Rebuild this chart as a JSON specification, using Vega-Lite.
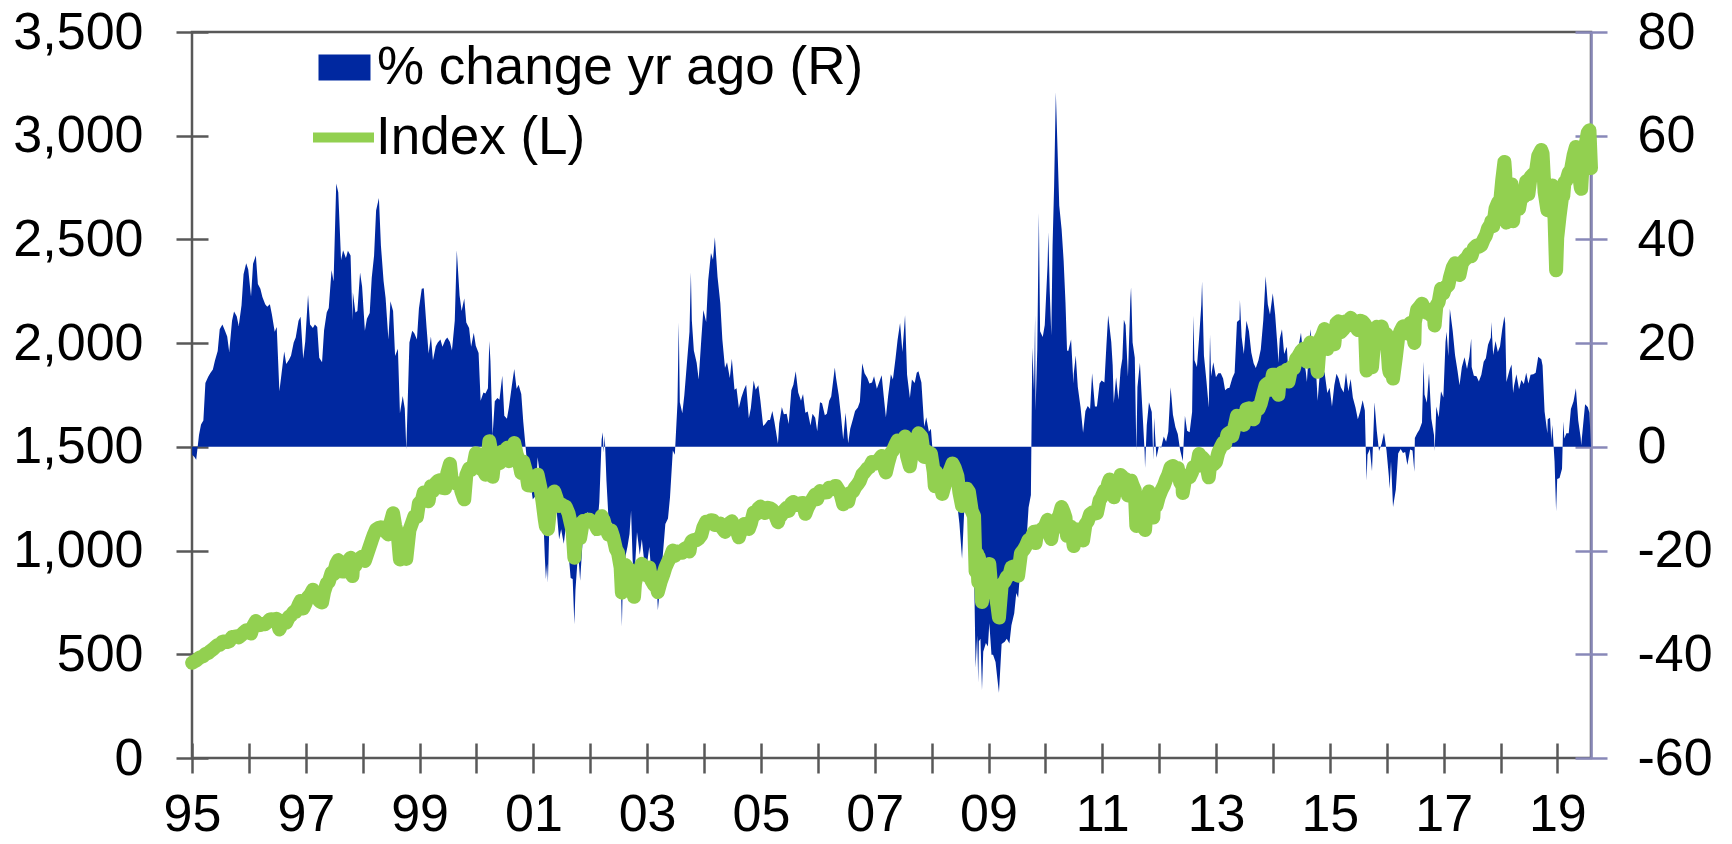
{
"$schema": "https://vega.github.io/schema/vega-lite/v6.json",
"width": 1399, "height": 726,
"autosize": {"type": "none"},
"padding": {"left": 192, "top": 32, "right": 141, "bottom": 86},
"background": "white",
"config": {"view": {"stroke": "#585858", "strokeWidth": 2.5}, "font": "Liberation Sans"},
"data": {"values": [
{"d":"1995-01-02","i":459,"p":-1.5},{"d":"1995-01-15","i":465,"p":-1.9},{"d":"1995-01-28","i":470,"p":-2.5},
{"d":"1995-02-15","i":482,"p":2.3},{"d":"1995-02-28","i":487,"p":4.3},
{"d":"1995-03-15","i":491,"p":5.1},{"d":"1995-03-28","i":501,"p":12.3},
{"d":"1995-04-15","i":506,"p":13.5},{"d":"1995-04-28","i":515,"p":14.2},
{"d":"1995-05-15","i":524,"p":14.9},{"d":"1995-05-28","i":533,"p":16.6},
{"d":"1995-06-15","i":545,"p":18.5},{"d":"1995-06-28","i":545,"p":22.7},
{"d":"1995-07-15","i":560,"p":23.6},{"d":"1995-07-28","i":562,"p":22.7},
{"d":"1995-08-15","i":559,"p":21.3},{"d":"1995-08-28","i":562,"p":18.3},
{"d":"1995-09-15","i":583,"p":24.3},{"d":"1995-09-28","i":584,"p":26.1},
{"d":"1995-10-15","i":587,"p":25.2},{"d":"1995-10-28","i":582,"p":23.3},
{"d":"1995-11-15","i":593,"p":27.3},{"d":"1995-11-28","i":605,"p":33.3},
{"d":"1995-12-15","i":616,"p":35.4},{"d":"1995-12-28","i":616,"p":34.2},
{"d":"1996-01-15","i":600,"p":29.0},{"d":"1996-01-28","i":636,"p":35.3},
{"d":"1996-02-15","i":660,"p":36.9},{"d":"1996-02-28","i":640,"p":31.4},
{"d":"1996-03-15","i":641,"p":30.5},{"d":"1996-03-28","i":646,"p":28.9},
{"d":"1996-04-15","i":645,"p":27.5},{"d":"1996-04-28","i":654,"p":27.0},
{"d":"1996-05-15","i":668,"p":27.5},{"d":"1996-05-28","i":669,"p":25.5},
{"d":"1996-06-15","i":666,"p":22.2},{"d":"1996-06-28","i":671,"p":23.1},
{"d":"1996-07-15","i":620,"p":10.7},{"d":"1996-07-28","i":640,"p":13.9},
{"d":"1996-08-15","i":662,"p":18.4},{"d":"1996-08-28","i":652,"p":16.0},
{"d":"1996-09-15","i":681,"p":16.8},{"d":"1996-09-28","i":687,"p":17.6},
{"d":"1996-10-15","i":705,"p":20.1},{"d":"1996-10-28","i":705,"p":21.1},
{"d":"1996-11-15","i":737,"p":24.3},{"d":"1996-11-28","i":757,"p":25.1},
{"d":"1996-12-15","i":721,"p":17.0},{"d":"1996-12-28","i":741,"p":20.3},
{"d":"1997-01-15","i":776,"p":29.3},{"d":"1997-01-28","i":786,"p":23.6},
{"d":"1997-02-15","i":811,"p":22.9},{"d":"1997-02-28","i":791,"p":23.6},
{"d":"1997-03-15","i":789,"p":23.1},{"d":"1997-03-28","i":757,"p":17.2},
{"d":"1997-04-15","i":750,"p":16.3},{"d":"1997-04-28","i":801,"p":22.5},
{"d":"1997-05-15","i":841,"p":25.9},{"d":"1997-05-28","i":848,"p":26.8},
{"d":"1997-06-15","i":893,"p":34.1},{"d":"1997-06-28","i":885,"p":31.9},
{"d":"1997-07-15","i":935,"p":50.8},{"d":"1997-07-28","i":954,"p":49.1},
{"d":"1997-08-15","i":900,"p":36.0},{"d":"1997-08-28","i":899,"p":37.9},
{"d":"1997-09-15","i":929,"p":36.4},{"d":"1997-09-28","i":947,"p":37.8},
{"d":"1997-10-15","i":965,"p":36.9},{"d":"1997-10-27","i":877,"p":24.4},{"d":"1997-10-30","i":915,"p":29.8},
{"d":"1997-11-15","i":928,"p":25.9},{"d":"1997-11-28","i":955,"p":26.2},
{"d":"1997-12-15","i":963,"p":33.6},{"d":"1997-12-28","i":970,"p":30.9},
{"d":"1998-01-15","i":950,"p":22.4},{"d":"1998-01-28","i":980,"p":24.7},
{"d":"1998-02-15","i":1020,"p":25.8},{"d":"1998-02-28","i":1049,"p":32.6},
{"d":"1998-03-15","i":1080,"p":36.9},{"d":"1998-03-28","i":1102,"p":45.6},
{"d":"1998-04-15","i":1110,"p":48.0},{"d":"1998-04-28","i":1112,"p":38.8},
{"d":"1998-05-15","i":1110,"p":32.0},{"d":"1998-05-28","i":1091,"p":28.7},
{"d":"1998-06-15","i":1078,"p":20.7},{"d":"1998-06-28","i":1134,"p":28.1},
{"d":"1998-07-15","i":1180,"p":26.2},{"d":"1998-07-28","i":1121,"p":17.5},
{"d":"1998-08-15","i":1070,"p":18.9},{"d":"1998-08-28","i":957,"p":6.5},
{"d":"1998-09-15","i":1020,"p":9.8},{"d":"1998-09-28","i":1017,"p":7.4},
{"d":"1998-10-08","i":960,"p":-0.5},{"d":"1998-10-28","i":1099,"p":20.1},
{"d":"1998-11-15","i":1136,"p":22.4},{"d":"1998-11-28","i":1164,"p":21.9},
{"d":"1998-12-15","i":1162,"p":20.7},{"d":"1998-12-28","i":1229,"p":26.7},
{"d":"1999-01-15","i":1240,"p":30.5},{"d":"1999-01-28","i":1280,"p":30.6},
{"d":"1999-02-15","i":1255,"p":23.0},{"d":"1999-02-28","i":1238,"p":18.0},
{"d":"1999-03-15","i":1310,"p":21.3},{"d":"1999-03-28","i":1286,"p":16.7},
{"d":"1999-04-15","i":1325,"p":19.4},{"d":"1999-04-28","i":1335,"p":20.1},
{"d":"1999-05-15","i":1340,"p":20.7},{"d":"1999-05-28","i":1302,"p":19.3},
{"d":"1999-06-15","i":1300,"p":20.6},{"d":"1999-06-28","i":1373,"p":21.1},
{"d":"1999-07-15","i":1418,"p":20.2},{"d":"1999-07-28","i":1329,"p":18.6},
{"d":"1999-08-15","i":1330,"p":24.3},{"d":"1999-08-28","i":1320,"p":37.9},
{"d":"1999-09-15","i":1318,"p":29.2},{"d":"1999-09-28","i":1283,"p":26.2},
{"d":"1999-10-15","i":1247,"p":28.6},{"d":"1999-10-28","i":1363,"p":24.0},
{"d":"1999-11-15","i":1396,"p":22.9},{"d":"1999-11-28","i":1389,"p":19.3},
{"d":"1999-12-15","i":1418,"p":22.0},{"d":"1999-12-28","i":1469,"p":19.5},
{"d":"2000-01-15","i":1465,"p":18.1},{"d":"2000-01-28","i":1394,"p":8.9},
{"d":"2000-02-15","i":1387,"p":10.5},{"d":"2000-02-28","i":1366,"p":10.3},
{"d":"2000-03-15","i":1458,"p":11.3},{"d":"2000-03-24","i":1527,"p":20.4},{"d":"2000-03-31","i":1499,"p":16.6},
{"d":"2000-04-14","i":1356,"p":2.3},{"d":"2000-04-28","i":1452,"p":8.8},
{"d":"2000-05-15","i":1466,"p":9.4},{"d":"2000-05-28","i":1421,"p":9.1},
{"d":"2000-06-15","i":1478,"p":13.7},{"d":"2000-06-28","i":1455,"p":6.0},
{"d":"2000-07-15","i":1495,"p":5.4},{"d":"2000-07-28","i":1431,"p":7.7},
{"d":"2000-08-15","i":1485,"p":11.7},{"d":"2000-08-31","i":1518,"p":15.0},
{"d":"2000-09-15","i":1466,"p":11.2},{"d":"2000-09-28","i":1437,"p":12.0},
{"d":"2000-10-15","i":1374,"p":10.2},{"d":"2000-10-28","i":1429,"p":4.8},
{"d":"2000-11-15","i":1380,"p":-1.1},{"d":"2000-11-28","i":1315,"p":-5.3},
{"d":"2000-12-15","i":1313,"p":-7.4},{"d":"2000-12-28","i":1320,"p":-10.1},
{"d":"2001-01-15","i":1326,"p":-9.5},{"d":"2001-01-28","i":1366,"p":-2.0},
{"d":"2001-02-15","i":1302,"p":-6.1},{"d":"2001-02-28","i":1240,"p":-9.2},
{"d":"2001-03-15","i":1150,"p":-21.1},{"d":"2001-03-22","i":1117,"p":-25.5},{"d":"2001-03-30","i":1160,"p":-22.6},
{"d":"2001-04-04","i":1103,"p":-26.2},{"d":"2001-04-15","i":1180,"p":-13.0},{"d":"2001-04-28","i":1249,"p":-14.0},
{"d":"2001-05-15","i":1285,"p":-12.3},{"d":"2001-05-28","i":1256,"p":-11.6},
{"d":"2001-06-15","i":1215,"p":-17.8},{"d":"2001-06-28","i":1224,"p":-15.9},
{"d":"2001-07-15","i":1215,"p":-18.7},{"d":"2001-07-28","i":1211,"p":-15.4},
{"d":"2001-08-15","i":1178,"p":-20.7},{"d":"2001-08-28","i":1134,"p":-25.3},
{"d":"2001-09-10","i":1092,"p":-25.5},{"d":"2001-09-21","i":965,"p":-34.2},{"d":"2001-09-28","i":1041,"p":-27.6},
{"d":"2001-10-15","i":1097,"p":-20.2},{"d":"2001-10-28","i":1060,"p":-25.8},
{"d":"2001-11-15","i":1142,"p":-17.2},{"d":"2001-11-28","i":1139,"p":-13.4},
{"d":"2001-12-15","i":1148,"p":-12.6},{"d":"2001-12-28","i":1148,"p":-13.0},
{"d":"2002-01-15","i":1138,"p":-14.2},{"d":"2002-01-28","i":1130,"p":-17.3},
{"d":"2002-02-15","i":1104,"p":-15.2},{"d":"2002-02-28","i":1107,"p":-10.7},
{"d":"2002-03-15","i":1166,"p":1.4},{"d":"2002-03-22","i":1148,"p":2.8},{"d":"2002-03-28","i":1147,"p":-1.1},
{"d":"2002-04-04","i":1126,"p":2.1},{"d":"2002-04-15","i":1102,"p":-6.6},{"d":"2002-04-28","i":1077,"p":-13.8},
{"d":"2002-05-15","i":1097,"p":-14.6},{"d":"2002-05-28","i":1067,"p":-15.0},
{"d":"2002-06-15","i":1007,"p":-17.1},{"d":"2002-06-28","i":990,"p":-19.1},
{"d":"2002-07-15","i":918,"p":-24.4},{"d":"2002-07-23","i":797,"p":-34.6},{"d":"2002-07-30","i":912,"p":-24.7},
{"d":"2002-08-15","i":930,"p":-21.1},{"d":"2002-08-28","i":916,"p":-19.2},
{"d":"2002-09-10","i":909,"p":-16.8},{"d":"2002-09-20","i":846,"p":-12.3},{"d":"2002-09-30","i":815,"p":-21.7},
{"d":"2002-10-09","i":777,"p":-26.5},{"d":"2002-10-15","i":841,"p":-23.3},{"d":"2002-10-28","i":886,"p":-16.4},
{"d":"2002-11-15","i":904,"p":-20.8},{"d":"2002-11-28","i":936,"p":-17.8},
{"d":"2002-12-15","i":890,"p":-22.5},{"d":"2002-12-28","i":880,"p":-23.3},
{"d":"2003-01-15","i":918,"p":-19.3},{"d":"2003-01-28","i":856,"p":-24.2},
{"d":"2003-02-15","i":834,"p":-24.5},{"d":"2003-02-28","i":841,"p":-24.0},
{"d":"2003-03-11","i":800,"p":-31.5},{"d":"2003-03-28","i":848,"p":-26.1},
{"d":"2003-04-15","i":885,"p":-19.7},{"d":"2003-04-28","i":917,"p":-14.9},
{"d":"2003-05-15","i":946,"p":-13.8},{"d":"2003-05-28","i":964,"p":-9.7},
{"d":"2003-06-15","i":1000,"p":-0.7},{"d":"2003-06-28","i":975,"p":-1.5},
{"d":"2003-07-15","i":996,"p":8.5},{"d":"2003-07-23","i":988,"p":24.0},{"d":"2003-07-30","i":990,"p":8.6},
{"d":"2003-08-15","i":990,"p":6.5},{"d":"2003-08-28","i":1008,"p":10.0},
{"d":"2003-09-15","i":1015,"p":16.7},{"d":"2003-09-30","i":996,"p":22.2},
{"d":"2003-10-09","i":1038,"p":33.6},{"d":"2003-10-15","i":1046,"p":24.4},{"d":"2003-10-28","i":1051,"p":18.6},
{"d":"2003-11-15","i":1050,"p":16.2},{"d":"2003-11-28","i":1058,"p":13.0},
{"d":"2003-12-15","i":1075,"p":20.8},{"d":"2003-12-28","i":1112,"p":26.4},
{"d":"2004-01-15","i":1139,"p":24.1},{"d":"2004-01-28","i":1131,"p":32.1},
{"d":"2004-02-15","i":1146,"p":37.4},{"d":"2004-02-28","i":1145,"p":36.1},
{"d":"2004-03-11","i":1123,"p":40.4},{"d":"2004-03-28","i":1126,"p":32.8},
{"d":"2004-04-15","i":1130,"p":27.7},{"d":"2004-04-28","i":1107,"p":20.7},
{"d":"2004-05-15","i":1090,"p":15.2},{"d":"2004-05-28","i":1121,"p":16.3},
{"d":"2004-06-15","i":1133,"p":13.3},{"d":"2004-06-28","i":1141,"p":17.0},
{"d":"2004-07-15","i":1106,"p":11.0},{"d":"2004-07-28","i":1102,"p":11.3},
{"d":"2004-08-12","i":1064,"p":7.5},{"d":"2004-08-28","i":1104,"p":9.5},
{"d":"2004-09-15","i":1128,"p":11.1},{"d":"2004-09-28","i":1115,"p":12.0},
{"d":"2004-10-15","i":1104,"p":5.5},{"d":"2004-10-28","i":1130,"p":7.5},
{"d":"2004-11-15","i":1184,"p":12.8},{"d":"2004-11-28","i":1174,"p":11.0},
{"d":"2004-12-15","i":1203,"p":11.9},{"d":"2004-12-28","i":1212,"p":9.0},
{"d":"2005-01-15","i":1185,"p":4.0},{"d":"2005-01-28","i":1181,"p":4.4},
{"d":"2005-02-15","i":1206,"p":5.2},{"d":"2005-02-28","i":1204,"p":5.2},
{"d":"2005-03-15","i":1197,"p":6.9},{"d":"2005-03-28","i":1181,"p":4.9},
{"d":"2005-04-20","i":1137,"p":0.6},{"d":"2005-04-28","i":1157,"p":4.5},
{"d":"2005-05-15","i":1174,"p":7.7},{"d":"2005-05-28","i":1192,"p":6.3},
{"d":"2005-06-15","i":1206,"p":6.4},{"d":"2005-06-28","i":1191,"p":4.4},
{"d":"2005-07-15","i":1227,"p":10.9},{"d":"2005-07-28","i":1234,"p":12.0},
{"d":"2005-08-12","i":1219,"p":14.6},{"d":"2005-08-28","i":1220,"p":10.5},
{"d":"2005-09-15","i":1228,"p":8.9},{"d":"2005-09-28","i":1229,"p":10.2},
{"d":"2005-10-13","i":1177,"p":6.6},{"d":"2005-10-28","i":1207,"p":6.8},
{"d":"2005-11-15","i":1232,"p":4.1},{"d":"2005-11-28","i":1249,"p":6.4},
{"d":"2005-12-15","i":1270,"p":5.6},{"d":"2005-12-28","i":1248,"p":3.0},
{"d":"2006-01-15","i":1287,"p":8.6},{"d":"2006-01-28","i":1280,"p":8.4},
{"d":"2006-02-15","i":1280,"p":6.1},{"d":"2006-02-28","i":1281,"p":6.4},
{"d":"2006-03-15","i":1303,"p":8.9},{"d":"2006-03-28","i":1295,"p":9.7},
{"d":"2006-04-20","i":1311,"p":15.3},{"d":"2006-04-28","i":1311,"p":13.3},
{"d":"2006-05-15","i":1291,"p":10.0},{"d":"2006-05-28","i":1270,"p":6.5},
{"d":"2006-06-13","i":1223,"p":1.4},{"d":"2006-06-28","i":1270,"p":6.6},
{"d":"2006-07-15","i":1236,"p":0.7},{"d":"2006-07-28","i":1277,"p":3.5},
{"d":"2006-08-15","i":1285,"p":5.4},{"d":"2006-08-28","i":1304,"p":6.9},
{"d":"2006-09-15","i":1321,"p":7.6},{"d":"2006-09-28","i":1336,"p":8.7},
{"d":"2006-10-13","i":1366,"p":16.1},{"d":"2006-10-28","i":1378,"p":14.2},
{"d":"2006-11-15","i":1396,"p":13.3},{"d":"2006-11-28","i":1401,"p":12.2},
{"d":"2006-12-15","i":1427,"p":12.4},{"d":"2006-12-28","i":1418,"p":13.6},
{"d":"2007-01-15","i":1431,"p":11.2},{"d":"2007-01-28","i":1438,"p":12.3},
{"d":"2007-02-15","i":1456,"p":13.8},{"d":"2007-02-28","i":1407,"p":9.8},
{"d":"2007-03-14","i":1377,"p":5.7},{"d":"2007-03-28","i":1421,"p":9.7},
{"d":"2007-04-15","i":1470,"p":14.0},{"d":"2007-04-28","i":1482,"p":13.0},
{"d":"2007-05-15","i":1512,"p":17.1},{"d":"2007-05-28","i":1531,"p":20.6},
{"d":"2007-06-13","i":1515,"p":23.9},{"d":"2007-06-28","i":1503,"p":18.3},
{"d":"2007-07-15","i":1550,"p":25.4},{"d":"2007-07-28","i":1455,"p":13.9},
{"d":"2007-08-15","i":1406,"p":9.4},{"d":"2007-08-28","i":1474,"p":13.0},
{"d":"2007-09-15","i":1484,"p":12.3},{"d":"2007-09-28","i":1527,"p":14.3},
{"d":"2007-10-09","i":1565,"p":14.6},{"d":"2007-10-28","i":1549,"p":12.4},
{"d":"2007-11-15","i":1451,"p":3.9},{"d":"2007-11-28","i":1481,"p":5.7},
{"d":"2007-12-15","i":1468,"p":2.9},{"d":"2007-12-28","i":1468,"p":3.5},
{"d":"2008-01-15","i":1380,"p":-3.6},{"d":"2008-01-22","i":1310,"p":-8.7},{"d":"2008-01-30","i":1379,"p":-4.1},
{"d":"2008-02-15","i":1350,"p":-7.3},{"d":"2008-02-28","i":1331,"p":-5.4},
{"d":"2008-03-10","i":1273,"p":-9.2},{"d":"2008-03-28","i":1323,"p":-6.9},
{"d":"2008-04-15","i":1365,"p":-7.1},{"d":"2008-04-28","i":1386,"p":-6.5},
{"d":"2008-05-15","i":1420,"p":-6.1},{"d":"2008-05-28","i":1400,"p":-8.6},
{"d":"2008-06-15","i":1360,"p":-11.3},{"d":"2008-06-28","i":1280,"p":-14.8},
{"d":"2008-07-15","i":1215,"p":-21.6},{"d":"2008-07-28","i":1267,"p":-12.9},
{"d":"2008-08-15","i":1298,"p":-7.7},{"d":"2008-08-28","i":1283,"p":-13.0},
{"d":"2008-09-15","i":1192,"p":-19.7},{"d":"2008-09-30","i":1166,"p":-23.6},
{"d":"2008-10-10","i":899,"p":-42.6},{"d":"2008-10-20","i":985,"p":-36.4},{"d":"2008-10-27","i":848,"p":-45.4},{"d":"2008-10-31","i":968,"p":-37.5},
{"d":"2008-11-10","i":920,"p":-37.0},{"d":"2008-11-20","i":752,"p":-46.9},{"d":"2008-11-28","i":896,"p":-39.5},
{"d":"2008-12-15","i":913,"p":-37.8},{"d":"2008-12-28","i":903,"p":-38.5},
{"d":"2009-01-06","i":935,"p":-34.0},{"d":"2009-01-20","i":805,"p":-40.1},{"d":"2009-01-30","i":826,"p":-40.1},
{"d":"2009-02-15","i":790,"p":-41.5},{"d":"2009-02-27","i":735,"p":-44.8},
{"d":"2009-03-09","i":677,"p":-47.4},{"d":"2009-03-26","i":832,"p":-38.0},
{"d":"2009-04-15","i":852,"p":-37.6},{"d":"2009-04-28","i":873,"p":-37.0},
{"d":"2009-05-15","i":882,"p":-37.9},{"d":"2009-05-28","i":919,"p":-34.4},
{"d":"2009-06-15","i":924,"p":-32.1},{"d":"2009-06-28","i":919,"p":-28.2},
{"d":"2009-07-10","i":879,"p":-29.1},{"d":"2009-07-28","i":987,"p":-22.1},
{"d":"2009-08-15","i":1004,"p":-22.6},{"d":"2009-08-28","i":1021,"p":-20.4},
{"d":"2009-09-15","i":1052,"p":-11.7},{"d":"2009-09-30","i":1057,"p":-9.3},
{"d":"2009-10-09","i":1071,"p":19.1},{"d":"2009-10-20","i":1091,"p":10.8},{"d":"2009-10-27","i":1063,"p":25.4},{"d":"2009-10-30","i":1036,"p":7.0},
{"d":"2009-11-10","i":1093,"p":18.8},{"d":"2009-11-20","i":1091,"p":45.1},{"d":"2009-11-28","i":1096,"p":22.3},
{"d":"2009-12-15","i":1107,"p":21.2},{"d":"2009-12-28","i":1115,"p":23.5},
{"d":"2010-01-15","i":1148,"p":35.1},{"d":"2010-01-20","i":1138,"p":41.4},{"d":"2010-01-29","i":1074,"p":30.0},
{"d":"2010-02-08","i":1056,"p":21.5},{"d":"2010-02-16","i":1094,"p":38.7},{"d":"2010-02-26","i":1104,"p":50.2},
{"d":"2010-03-09","i":1140,"p":68.4},{"d":"2010-03-31","i":1169,"p":46.5},
{"d":"2010-04-15","i":1210,"p":42.0},{"d":"2010-04-28","i":1187,"p":36.0},
{"d":"2010-05-10","i":1160,"p":27.9},{"d":"2010-05-20","i":1071,"p":18.6},{"d":"2010-05-28","i":1089,"p":18.5},
{"d":"2010-06-15","i":1115,"p":20.7},{"d":"2010-06-30","i":1031,"p":12.2},
{"d":"2010-07-02","i":1022,"p":14.1},{"d":"2010-07-15","i":1096,"p":17.6},{"d":"2010-07-28","i":1102,"p":11.6},
{"d":"2010-08-15","i":1080,"p":7.6},{"d":"2010-08-31","i":1049,"p":2.7},
{"d":"2010-09-15","i":1125,"p":6.9},{"d":"2010-09-30","i":1141,"p":7.9},
{"d":"2010-10-15","i":1176,"p":7.3},{"d":"2010-10-28","i":1183,"p":14.2},
{"d":"2010-11-15","i":1178,"p":7.8},{"d":"2010-11-28","i":1181,"p":7.8},
{"d":"2010-12-15","i":1242,"p":12.2},{"d":"2010-12-28","i":1258,"p":12.8},
{"d":"2011-01-15","i":1290,"p":12.4},{"d":"2011-01-28","i":1286,"p":19.7},
{"d":"2011-02-08","i":1324,"p":25.4},{"d":"2011-02-18","i":1343,"p":22.8},{"d":"2011-02-28","i":1327,"p":20.2},
{"d":"2011-03-09","i":1320,"p":15.8},{"d":"2011-03-16","i":1257,"p":8.4},{"d":"2011-03-31","i":1326,"p":13.4},
{"d":"2011-04-15","i":1320,"p":9.1},{"d":"2011-04-29","i":1364,"p":14.9},
{"d":"2011-05-10","i":1357,"p":17.0},{"d":"2011-05-20","i":1333,"p":24.5},{"d":"2011-05-31","i":1345,"p":23.5},
{"d":"2011-06-15","i":1266,"p":13.5},{"d":"2011-06-30","i":1321,"p":28.1},
{"d":"2011-07-05","i":1337,"p":30.8},{"d":"2011-07-15","i":1316,"p":20.1},{"d":"2011-07-29","i":1292,"p":17.2},
{"d":"2011-08-08","i":1119,"p":-0.7},{"d":"2011-08-15","i":1204,"p":11.5},{"d":"2011-08-31","i":1219,"p":16.2},
{"d":"2011-09-15","i":1210,"p":7.6},{"d":"2011-09-30","i":1131,"p":-0.9},
{"d":"2011-10-03","i":1099,"p":-4.1},{"d":"2011-10-14","i":1225,"p":4.2},{"d":"2011-10-28","i":1285,"p":8.6},
{"d":"2011-11-15","i":1257,"p":6.7},{"d":"2011-11-25","i":1159,"p":-2.5},{"d":"2011-11-30","i":1247,"p":5.6},
{"d":"2011-12-15","i":1216,"p":-2.1},{"d":"2011-12-30","i":1258,"p":0.0},
{"d":"2012-01-15","i":1289,"p":-0.1},{"d":"2012-01-31","i":1312,"p":2.0},
{"d":"2012-02-15","i":1343,"p":1.0},{"d":"2012-02-29","i":1366,"p":2.9},
{"d":"2012-03-15","i":1402,"p":11.5},{"d":"2012-03-30","i":1408,"p":6.2},
{"d":"2012-04-15","i":1370,"p":3.8},{"d":"2012-04-30","i":1398,"p":2.5},
{"d":"2012-05-15","i":1330,"p":-0.6},{"d":"2012-05-31","i":1310,"p":-2.6},
{"d":"2012-06-01","i":1278,"p":-2.8},{"d":"2012-06-15","i":1342,"p":6.0},{"d":"2012-06-29","i":1362,"p":3.1},
{"d":"2012-07-15","i":1353,"p":2.8},{"d":"2012-07-31","i":1379,"p":6.7},
{"d":"2012-08-08","i":1402,"p":25.3},{"d":"2012-08-15","i":1405,"p":16.7},{"d":"2012-08-31","i":1407,"p":15.4},
{"d":"2012-09-14","i":1465,"p":21.1},{"d":"2012-09-28","i":1441,"p":27.4},
{"d":"2012-10-03","i":1450,"p":31.9},{"d":"2012-10-15","i":1440,"p":17.6},{"d":"2012-10-31","i":1412,"p":12.7},
{"d":"2012-11-15","i":1353,"p":7.6},{"d":"2012-11-23","i":1409,"p":21.6},{"d":"2012-11-30","i":1416,"p":13.6},
{"d":"2012-12-14","i":1414,"p":16.3},{"d":"2012-12-31","i":1426,"p":13.4},
{"d":"2013-01-15","i":1472,"p":14.2},{"d":"2013-01-31","i":1498,"p":14.2},
{"d":"2013-02-15","i":1520,"p":13.2},{"d":"2013-02-28","i":1515,"p":10.9},
{"d":"2013-03-15","i":1561,"p":11.3},{"d":"2013-03-28","i":1569,"p":11.4},
{"d":"2013-04-15","i":1552,"p":13.3},{"d":"2013-04-30","i":1598,"p":14.3},
{"d":"2013-05-15","i":1650,"p":24.1},{"d":"2013-05-31","i":1631,"p":24.5},
{"d":"2013-06-03","i":1640,"p":28.3},{"d":"2013-06-14","i":1626,"p":21.2},{"d":"2013-06-28","i":1606,"p":17.9},
{"d":"2013-07-15","i":1682,"p":24.3},{"d":"2013-07-31","i":1686,"p":22.3},
{"d":"2013-08-15","i":1661,"p":18.2},{"d":"2013-08-30","i":1633,"p":16.1},
{"d":"2013-09-13","i":1688,"p":15.2},{"d":"2013-09-30","i":1682,"p":16.7},
{"d":"2013-10-15","i":1710,"p":18.8},{"d":"2013-10-31","i":1757,"p":24.4},
{"d":"2013-11-15","i":1798,"p":32.9},{"d":"2013-11-29","i":1806,"p":27.5},
{"d":"2013-12-13","i":1775,"p":25.5},{"d":"2013-12-31","i":1848,"p":29.6},
{"d":"2014-01-15","i":1848,"p":25.5},{"d":"2014-01-31","i":1783,"p":19.0},
{"d":"2014-02-05","i":1751,"p":16.2},{"d":"2014-02-14","i":1838,"p":20.9},{"d":"2014-02-28","i":1859,"p":22.7},
{"d":"2014-03-14","i":1841,"p":17.9},{"d":"2014-03-31","i":1872,"p":19.3},
{"d":"2014-04-11","i":1815,"p":13.9},{"d":"2014-04-30","i":1884,"p":17.9},
{"d":"2014-05-15","i":1877,"p":13.8},{"d":"2014-05-30","i":1924,"p":18.0},
{"d":"2014-06-13","i":1937,"p":19.1},{"d":"2014-06-30","i":1960,"p":22.0},
{"d":"2014-07-15","i":1973,"p":17.3},{"d":"2014-07-31","i":1931,"p":14.5},
{"d":"2014-08-07","i":1910,"p":12.5},{"d":"2014-08-29","i":2003,"p":22.7},
{"d":"2014-09-15","i":1985,"p":17.6},{"d":"2014-09-30","i":1972,"p":17.2},
{"d":"2014-10-15","i":1862,"p":8.9},{"d":"2014-10-31","i":2018,"p":14.9},
{"d":"2014-11-14","i":2039,"p":13.4},{"d":"2014-11-28","i":2068,"p":14.5},
{"d":"2014-12-16","i":1972,"p":10.4},{"d":"2014-12-31","i":2059,"p":11.4},
{"d":"2015-01-15","i":1992,"p":7.8},{"d":"2015-01-30","i":1995,"p":11.9},
{"d":"2015-02-13","i":2097,"p":14.1},{"d":"2015-02-27","i":2105,"p":13.2},
{"d":"2015-03-13","i":2053,"p":11.5},{"d":"2015-03-31","i":2068,"p":10.5},
{"d":"2015-04-15","i":2106,"p":14.3},{"d":"2015-04-30","i":2086,"p":10.7},
{"d":"2015-05-15","i":2122,"p":13.1},{"d":"2015-05-29","i":2107,"p":9.5},
{"d":"2015-06-15","i":2085,"p":7.6},{"d":"2015-06-30","i":2063,"p":5.3},
{"d":"2015-07-15","i":2108,"p":6.8},{"d":"2015-07-31","i":2104,"p":9.0},
{"d":"2015-08-14","i":2092,"p":7.0},{"d":"2015-08-25","i":1868,"p":-6.5},{"d":"2015-08-31","i":1972,"p":-1.5},
{"d":"2015-09-15","i":1978,"p":-0.4},{"d":"2015-09-29","i":1884,"p":-4.7},
{"d":"2015-10-15","i":2023,"p":8.6},{"d":"2015-10-30","i":2079,"p":3.0},
{"d":"2015-11-13","i":2023,"p":-0.8},{"d":"2015-11-30","i":2080,"p":0.6},
{"d":"2015-12-15","i":2043,"p":2.7},{"d":"2015-12-31","i":2044,"p":-0.7},
{"d":"2016-01-15","i":1880,"p":-5.6},{"d":"2016-01-20","i":1859,"p":-8.1},{"d":"2016-01-29","i":1940,"p":-2.8},
{"d":"2016-02-11","i":1829,"p":-11.6},{"d":"2016-02-29","i":1932,"p":-8.2},
{"d":"2016-03-15","i":2027,"p":-1.3},{"d":"2016-03-31","i":2060,"p":-0.4},
{"d":"2016-04-15","i":2081,"p":-1.2},{"d":"2016-04-29","i":2065,"p":-1.0},
{"d":"2016-05-13","i":2047,"p":-3.5},{"d":"2016-05-31","i":2097,"p":-0.5},
{"d":"2016-06-15","i":2071,"p":-0.7},{"d":"2016-06-27","i":2001,"p":-4.8},{"d":"2016-06-30","i":2099,"p":1.7},
{"d":"2016-07-15","i":2162,"p":2.6},{"d":"2016-07-29","i":2174,"p":3.3},
{"d":"2016-08-15","i":2190,"p":4.7},{"d":"2016-08-25","i":2175,"p":16.4},{"d":"2016-08-31","i":2171,"p":10.1},
{"d":"2016-09-15","i":2147,"p":8.5},{"d":"2016-09-29","i":2151,"p":14.2},
{"d":"2016-10-14","i":2133,"p":5.4},{"d":"2016-10-31","i":2126,"p":2.3},
{"d":"2016-11-04","i":2085,"p":-0.8},{"d":"2016-11-15","i":2180,"p":7.8},{"d":"2016-11-30","i":2199,"p":5.7},
{"d":"2016-12-15","i":2262,"p":10.7},{"d":"2016-12-30","i":2239,"p":9.5},
{"d":"2017-01-13","i":2271,"p":20.2},{"d":"2017-01-20","i":2271,"p":22.2},{"d":"2017-01-31","i":2279,"p":17.5},
{"d":"2017-02-10","i":2316,"p":26.6},{"d":"2017-02-28","i":2364,"p":22.4},
{"d":"2017-03-15","i":2385,"p":17.7},{"d":"2017-03-31","i":2363,"p":14.7},
{"d":"2017-04-13","i":2329,"p":11.9},{"d":"2017-04-28","i":2384,"p":15.4},
{"d":"2017-05-15","i":2402,"p":17.3},{"d":"2017-05-31","i":2412,"p":15.0},
{"d":"2017-06-15","i":2432,"p":17.4},{"d":"2017-06-27","i":2419,"p":20.9},{"d":"2017-06-30","i":2423,"p":15.4},
{"d":"2017-07-14","i":2459,"p":13.7},{"d":"2017-07-31","i":2470,"p":13.6},
{"d":"2017-08-15","i":2465,"p":12.6},{"d":"2017-08-31","i":2472,"p":13.9},
{"d":"2017-09-15","i":2500,"p":16.4},{"d":"2017-09-29","i":2519,"p":17.1},
{"d":"2017-10-13","i":2553,"p":19.7},{"d":"2017-10-31","i":2575,"p":21.1},
{"d":"2017-11-03","i":2588,"p":24.1},{"d":"2017-11-15","i":2565,"p":17.7},{"d":"2017-11-30","i":2648,"p":20.4},
{"d":"2017-12-15","i":2676,"p":18.3},{"d":"2017-12-29","i":2674,"p":19.4},
{"d":"2018-01-12","i":2786,"p":22.7},{"d":"2018-01-26","i":2873,"p":25.2},{"d":"2018-01-31","i":2824,"p":23.9},
{"d":"2018-02-08","i":2581,"p":12.5},{"d":"2018-02-28","i":2714,"p":14.8},
{"d":"2018-03-13","i":2765,"p":15.9},{"d":"2018-03-23","i":2588,"p":10.4},{"d":"2018-03-29","i":2641,"p":11.8},
{"d":"2018-04-13","i":2656,"p":14.0},{"d":"2018-04-30","i":2648,"p":11.1},
{"d":"2018-05-15","i":2711,"p":12.9},{"d":"2018-05-31","i":2705,"p":12.1},
{"d":"2018-06-15","i":2780,"p":14.3},{"d":"2018-06-29","i":2718,"p":12.2},
{"d":"2018-07-13","i":2801,"p":13.9},{"d":"2018-07-31","i":2816,"p":14.0},
{"d":"2018-08-15","i":2818,"p":14.3},{"d":"2018-08-31","i":2902,"p":17.4},
{"d":"2018-09-20","i":2931,"p":16.9},{"d":"2018-09-28","i":2914,"p":15.7},
{"d":"2018-10-11","i":2729,"p":6.8},{"d":"2018-10-29","i":2641,"p":2.6},{"d":"2018-10-31","i":2712,"p":5.3},
{"d":"2018-11-15","i":2730,"p":5.6},{"d":"2018-11-23","i":2633,"p":1.2},{"d":"2018-11-30","i":2760,"p":4.2},
{"d":"2018-12-14","i":2600,"p":-2.8},{"d":"2018-12-24","i":2351,"p":-12.4},{"d":"2018-12-31","i":2507,"p":-6.2},
{"d":"2019-01-15","i":2610,"p":-6.0},{"d":"2019-01-31","i":2704,"p":-4.2},
{"d":"2019-02-08","i":2708,"p":4.9},{"d":"2019-02-15","i":2775,"p":1.6},{"d":"2019-02-28","i":2784,"p":2.6},
{"d":"2019-03-15","i":2822,"p":2.6},{"d":"2019-03-29","i":2834,"p":7.3},
{"d":"2019-04-15","i":2905,"p":8.8},{"d":"2019-04-30","i":2946,"p":11.3},
{"d":"2019-05-15","i":2850,"p":5.1},{"d":"2019-05-31","i":2752,"p":1.7},
{"d":"2019-06-03","i":2744,"p":0.3},{"d":"2019-06-14","i":2887,"p":3.8},{"d":"2019-06-28","i":2942,"p":8.2},
{"d":"2019-07-15","i":3014,"p":7.7},{"d":"2019-07-26","i":3026,"p":6.6},
{"d":"2019-08-05","i":2844,"p":-0.2}
]},
"layer": [
{"mark": {"type": "area", "interpolate": "linear", "color": "#0028A0"},
 "encoding": {
  "x": {"field": "d", "type": "temporal",
        "scale": {"type": "utc", "domain": [{"year":1995,"month":1,"date":1,"utc":true},{"year":2019,"month":8,"date":5,"utc":true}]},
        "axis": {"orient": "bottom", "offset": -15, "tickSize": 30, "domain": false,
                 "values": [{"year":1995,"month":1,"date":1,"utc":true},{"year":1996,"month":1,"date":1,"utc":true},{"year":1997,"month":1,"date":1,"utc":true},{"year":1998,"month":1,"date":1,"utc":true},{"year":1999,"month":1,"date":1,"utc":true},{"year":2000,"month":1,"date":1,"utc":true},{"year":2001,"month":1,"date":1,"utc":true},{"year":2002,"month":1,"date":1,"utc":true},{"year":2003,"month":1,"date":1,"utc":true},{"year":2004,"month":1,"date":1,"utc":true},{"year":2005,"month":1,"date":1,"utc":true},{"year":2006,"month":1,"date":1,"utc":true},{"year":2007,"month":1,"date":1,"utc":true},{"year":2008,"month":1,"date":1,"utc":true},{"year":2009,"month":1,"date":1,"utc":true},{"year":2010,"month":1,"date":1,"utc":true},{"year":2011,"month":1,"date":1,"utc":true},{"year":2012,"month":1,"date":1,"utc":true},{"year":2013,"month":1,"date":1,"utc":true},{"year":2014,"month":1,"date":1,"utc":true},{"year":2015,"month":1,"date":1,"utc":true},{"year":2016,"month":1,"date":1,"utc":true},{"year":2017,"month":1,"date":1,"utc":true},{"year":2018,"month":1,"date":1,"utc":true},{"year":2019,"month":1,"date":1,"utc":true},{"year":2019,"month":8,"date":5,"utc":true}],
                 "grid": true, "gridColor": "#8888B8", "gridWidth": 2.5,
                 "gridOpacity": {"condition": {"test": "utcmonth(datum.value) != 0", "value": 1}, "value": 0},
                 "tickOpacity": {"condition": {"test": "utcmonth(datum.value) != 0", "value": 0}, "value": 1},
                 "tickColor": "#585858", "tickWidth": 2.5, "labelFontSize": 52, "labelFont": "Liberation Sans", "labelColor": "black",
                 "labelPadding": 16, "labelFlush": false, "labelOverlap": false, "title": null,
                 "labelExpr": "utcmonth(datum.value) == 0 && utcyear(datum.value) % 2 == 1 ? utcFormat(datum.value, '%y') : ''"}},
  "y": {"field": "p", "type": "quantitative", "stack": null,
        "scale": {"domain": [-60, 80], "nice": false, "zero": false},
        "axis": {"orient": "right", "values": [-60,-40,-20,0,20,40,60,80], "labelExpr": "'' + datum.value",
                 "domain": false, "offset": -16, "tickSize": 32, "tickColor": "#8888B8", "tickWidth": 2.5,
                 "labelPadding": 30, "grid": false, "title": null, "labelFontSize": 52, "labelFont": "Liberation Sans", "labelColor": "black"}},
  "fill": {"datum": "% change yr ago (R)", "type": "nominal", "scale": {"range": ["#0028A0"]},
           "legend": {"orient": "none", "legendX": 126, "legendY": 9, "title": null, "padding": 0,
                      "symbolType": "M-1,-0.5H1V0.5H-1Z", "symbolSize": 2704, "symbolStrokeWidth": 0,
                      "labelFontSize": 53, "labelFont": "Liberation Sans", "labelColor": "black", "labelOffset": 6, "labelLimit": 1000}}
 }},
{"mark": {"type": "line", "strokeWidth": 14, "strokeCap": "round", "strokeJoin": "round"},
 "encoding": {
  "x": {"field": "d", "type": "temporal"},
  "y": {"field": "i", "type": "quantitative",
        "scale": {"domain": [0, 3500], "nice": false},
        "axis": {"orient": "left", "offset": -16, "tickSize": 32, "domain": false, "grid": false,
                 "values": [0,500,1000,1500,2000,2500,3000,3500], "labelExpr": "format(datum.value, ',d')",
                 "tickColor": "#585858", "tickWidth": 2.5, "labelPadding": 33, "title": null,
                 "labelFontSize": 52, "labelFont": "Liberation Sans", "labelColor": "black"}},
  "stroke": {"datum": "Index (L)", "type": "nominal", "scale": {"range": ["#92D050"]},
             "legend": {"orient": "none", "legendX": 116, "legendY": 70, "title": null, "padding": 0,
                        "symbolType": "stroke", "symbolSize": 3721, "symbolStrokeWidth": 10,
                        "labelFontSize": 53, "labelFont": "Liberation Sans", "labelColor": "black", "labelOffset": -3, "labelLimit": 1000}}
 }}
],
"resolve": {"scale": {"y": "independent"}}
}
